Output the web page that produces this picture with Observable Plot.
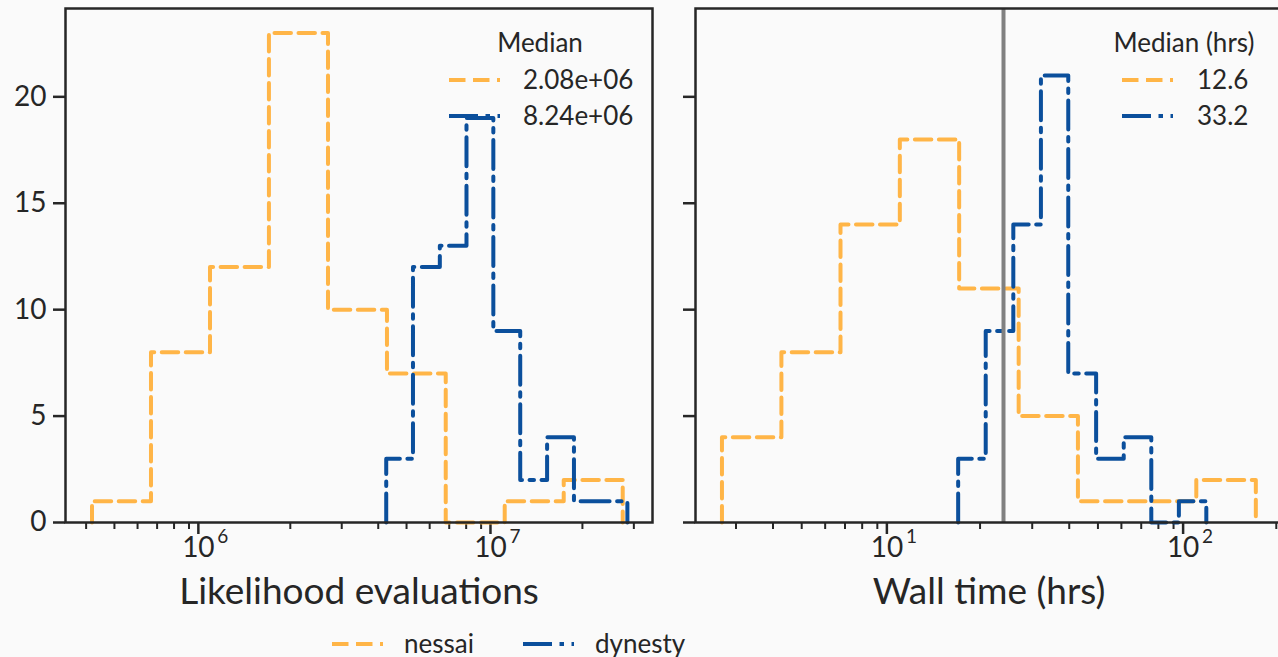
<!DOCTYPE html>
<html><head><meta charset="utf-8">
<script src="https://cdn.jsdelivr.net/npm/d3@7"></script>
<script src="https://cdn.jsdelivr.net/npm/@observablehq/plot@0.6"></script>
<style>
html,body{margin:0;padding:0;background:#fafafa;}
#wrap{position:relative;width:1278px;height:657px;overflow:hidden;background:#fafafa;font-family:Lato,sans-serif;color:#262626;}
.panel{position:absolute;top:0;}
#overlay{position:absolute;left:0;top:0;}
</style></head><body><div id="wrap"></div>
<script>
// ---- data ----
const seriesNames = ["nessai", "dynesty"];
const seriesColors = ["#ffb547", "#0b4f9c"];
const seriesDash = ["16.5,7.5", "29,7.5,4.5,7.5"];

const likeEdgesNessai = [4.19e5, 6.67e5, 1.062e6, 1.690e6, 2.692e6, 4.285e6, 6.81e6, 1.084e7, 1.726e7, 2.748e7];
const likeCountsNessai = [1, 8, 12, 23, 10, 7, 0, 1, 2];
const likeEdgesDynesty = [4.26e6, 5.26e6, 6.50e6, 8.02e6, 9.91e6, 1.225e7, 1.514e7, 1.871e7, 2.307e7, 2.851e7];
const likeCountsDynesty = [3, 12, 13, 19, 9, 2, 4, 1, 1];

const timeEdgesNessai = [2.69, 4.27, 6.76, 10.72, 17.0, 27.0, 42.8, 67.8, 107.4, 170.6];
const timeCountsNessai = [4, 8, 14, 18, 11, 5, 1, 1, 2];
const timeEdgesDynesty = [16.87, 20.9, 25.9, 32.1, 39.7, 49.3, 61.1, 75.7, 93.8, 116.1];
const timeCountsDynesty = [3, 9, 14, 21, 7, 3, 4, 0, 1];

const likeMedians = ["2.08e+06", "8.24e+06"];
const timeMedians = ["12.6", "33.2"];
const wallTimeLine = [24];

const likeDomain = [3.40e5, 3.475e7];
const timeDomain = [2.19, 209.9];
const countDomain = [0, 24.15];
const countTicks = [0, 5, 10, 15, 20];
const likeMajorTicks = [1e6, 1e7];
const likeMajorExponents = ["6", "7"];
const likeMinorTicks = [4e5, 5e5, 6e5, 7e5, 8e5, 9e5, 2e6, 3e6, 4e6, 5e6, 6e6, 7e6, 8e6, 9e6, 2e7, 3e7];
const timeMajorTicks = [10, 100];
const timeMajorExponents = ["1", "2"];
const timeMinorTicks = [3, 4, 5, 6, 7, 8, 9, 20, 30, 40, 50, 60, 70, 80, 90, 200];

// ---- helpers ----
function stepPoints(edges, counts) {
  const pts = [{x: edges[0], y: 0}];
  counts.forEach((c, i) => pts.push({x: edges[i], y: c}));
  pts.push({x: edges[edges.length - 1], y: counts[counts.length - 1]});
  pts.push({x: edges[edges.length - 1], y: 0});
  return pts;
}

function panel(o) {
  const marks = [
    Plot.axisY({ticks: countTicks, tickSize: 12, tickPadding: 7, strokeWidth: 2.5,
      tickFormat: o.yLabels ? (d => String(d)) : (() => ""), label: null}),
    Plot.axisX({ticks: o.minor, tickSize: 7, strokeWidth: 2, tickFormat: () => "", label: null}),
    Plot.axisX({ticks: o.major, tickSize: 12, tickPadding: 3, strokeWidth: 2.5, dx: -4,
      tickFormat: () => "10", label: null}),
    Plot.text(o.major, {x: d => d, text: (d, i) => o.exponents[i], frameAnchor: "bottom",
      textAnchor: "start", lineAnchor: "top", dx: 15, dy: 7, fontSize: 19}),
    Plot.line(stepPoints(o.edgesA, o.countsA), {x: "x", y: "y", curve: "step-after",
      stroke: seriesColors[0], strokeWidth: 4, strokeDasharray: seriesDash[0]}),
    Plot.line(stepPoints(o.edgesB, o.countsB), {x: "x", y: "y", curve: "step-after",
      stroke: seriesColors[1], strokeWidth: 4, strokeDasharray: seriesDash[1]}),
  ];
  if (o.rule) marks.push(Plot.ruleX(o.rule, {stroke: "#808080", strokeWidth: 4}));
  marks.push(Plot.frame({stroke: "#262626", strokeWidth: 2.5}));
  marks.push(Plot.text([o.xLabel], {text: d => d, frameAnchor: "bottom", dy: 81, fontSize: 37}));
  const svg = Plot.plot({
    width: 660, height: 620,
    marginTop: 8, marginLeft: 65, marginRight: 8, marginBottom: 98,
    x: {type: "log", domain: o.xDomain},
    y: {domain: countDomain},
    style: {fontFamily: "Lato, sans-serif", fontSize: "28px", color: "#262626", background: "transparent", overflow: "visible"},
    marks
  });
  svg.classList.add("panel");
  svg.style.left = o.left + "px";
  return svg;
}

const wrap = document.getElementById("wrap");
wrap.appendChild(panel({
  left: 0, xDomain: likeDomain, major: likeMajorTicks, exponents: likeMajorExponents, minor: likeMinorTicks, yLabels: true,
  edgesA: likeEdgesNessai, countsA: likeCountsNessai, edgesB: likeEdgesDynesty, countsB: likeCountsDynesty,
  xLabel: "Likelihood evaluations"
}));
wrap.appendChild(panel({
  left: 630, xDomain: timeDomain, major: timeMajorTicks, exponents: timeMajorExponents, minor: timeMinorTicks, yLabels: false,
  edgesA: timeEdgesNessai, countsA: timeCountsNessai, edgesB: timeEdgesDynesty, countsB: timeCountsDynesty,
  xLabel: "Wall time (hrs)", rule: wallTimeLine
}));

// ---- legends ----
const ov = d3.select(wrap).append("svg").attr("id", "overlay").attr("width", 1278).attr("height", 657)
  .style("font-family", "Lato, sans-serif").style("font-size", "26px").attr("fill", "#262626");

function legendBox(titleX, titleText, sampleX, textX, labels) {
  ov.append("text").attr("x", titleX).attr("y", 52).attr("text-anchor", "middle").text(titleText);
  labels.forEach((lab, i) => {
    const y = 80 + 36 * i;
    ov.append("line").attr("x1", sampleX).attr("x2", sampleX + 51).attr("y1", y).attr("y2", y)
      .attr("stroke", seriesColors[i]).attr("stroke-width", 4).attr("stroke-dasharray", seriesDash[i]);
    ov.append("text").attr("x", textX).attr("y", y + 9).text(lab);
  });
}
legendBox(540, "Median", 449, 523, likeMedians);
legendBox(1184, "Median (hrs)", 1122, 1197, timeMedians);

const bottomSample = [332, 523];
const bottomText = [404, 595];
seriesNames.forEach((name, i) => {
  ov.append("line").attr("x1", bottomSample[i]).attr("x2", bottomSample[i] + 51).attr("y1", 644).attr("y2", 644)
    .attr("stroke", seriesColors[i]).attr("stroke-width", 4).attr("stroke-dasharray", seriesDash[i]);
  ov.append("text").attr("x", bottomText[i]).attr("y", 653).text(name);
});
</script></body></html>
